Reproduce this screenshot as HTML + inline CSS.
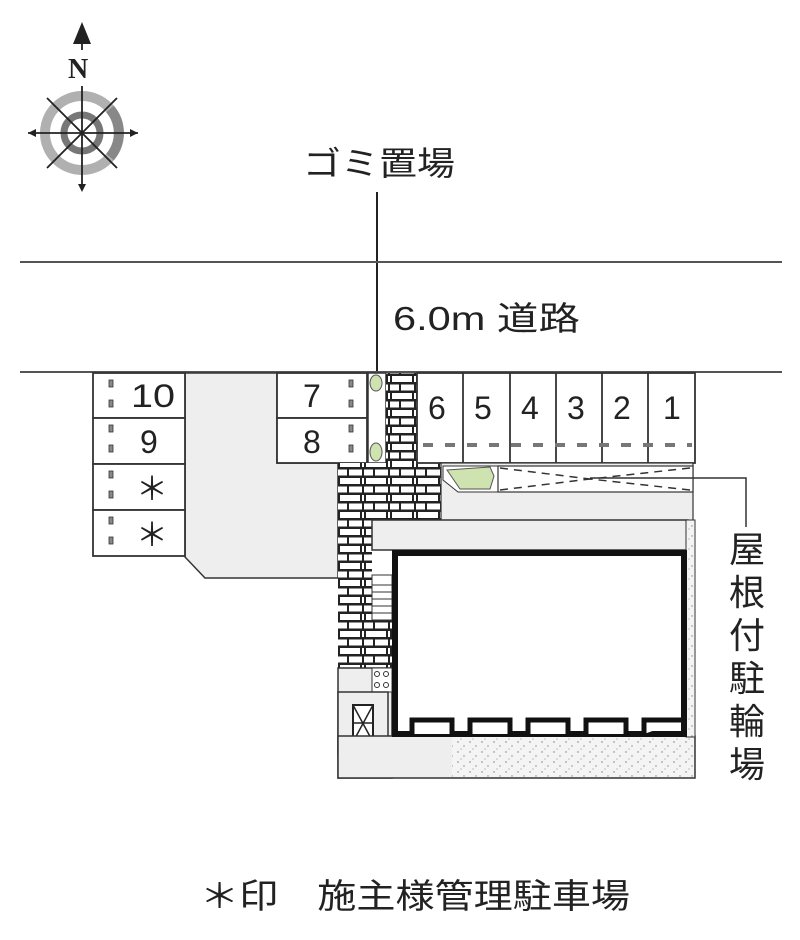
<!DOCTYPE html>
<html><head><meta charset="utf-8"><style>
html,body{margin:0;padding:0;background:#fff;}
svg{display:block;}
text{font-family:"Liberation Sans","Noto Sans CJK JP",sans-serif;fill:#222;}
</style></head><body>
<svg width="800" height="940" viewBox="0 0 800 940" xmlns="http://www.w3.org/2000/svg">
<defs>
<pattern id="brick" width="26" height="17" patternUnits="userSpaceOnUse">
<rect width="26" height="17" fill="#222"/>
<rect x="2" y="2" width="20" height="6" fill="#fff"/>
<rect x="24" y="2" width="2" height="6" fill="#fff"/>
<rect x="0" y="10.5" width="9" height="6" fill="#fff"/>
<rect x="11" y="10.5" width="13" height="6" fill="#fff"/>
</pattern>
<pattern id="dots" width="12" height="10" patternUnits="userSpaceOnUse">
<rect width="12" height="10" fill="#f4f4f4"/>
<circle cx="2" cy="2" r="0.7" fill="#777"/><circle cx="8" cy="6" r="0.7" fill="#888"/><circle cx="5" cy="9" r="0.6" fill="#999"/>
</pattern>
</defs>
<!-- compass -->
<g>
<circle cx="82" cy="133" r="37" fill="none" stroke="#b0b0b0" stroke-width="10"/>
<path d="M110,109 A37,37 0 0 1 110,157" fill="none" stroke="#888" stroke-width="10"/>
<circle cx="82" cy="133" r="18" fill="none" stroke="#777" stroke-width="7"/>
<g stroke="#222" stroke-width="1.8">
<line x1="82" y1="86" x2="82" y2="190"/>
<line x1="28" y1="133" x2="138" y2="133"/>
<line x1="47" y1="98" x2="117" y2="168"/>
<line x1="117" y1="98" x2="47" y2="168"/>
<line x1="82" y1="30" x2="82" y2="50"/>
</g>
<polygon points="82,22 73,44 91,44" fill="#222"/>
<polygon points="28,133 36,129 36,137" fill="#222"/>
<polygon points="138,133 130,129 130,137" fill="#222"/>
<polygon points="82,192 78,184 86,184" fill="#222"/>
<text x="68" y="78" font-family="Liberation Serif,serif" font-weight="bold" font-size="28" style="font-family:'Liberation Serif',serif">N</text>
</g>
<!-- labels -->
<text x="303" y="175" font-size="33" textLength="152" lengthAdjust="spacingAndGlyphs">ゴミ置場</text>
<text x="393" y="330" font-size="33" textLength="187" lengthAdjust="spacingAndGlyphs">6.0m 道路</text>
<line x1="377" y1="192" x2="377" y2="395" stroke="#222" stroke-width="2"/>
<!-- road -->
<line x1="20" y1="262" x2="782" y2="262" stroke="#555" stroke-width="2"/>
<line x1="20" y1="372" x2="782" y2="372" stroke="#555" stroke-width="2"/>
<!-- left gray area -->
<polygon points="185,373 277,373 277,463 338,463 338,578 205,578 185,557" fill="#eee" stroke="#333" stroke-width="1.5"/>
<!-- left spaces -->
<g fill="#fff" stroke="#333" stroke-width="1.8">
<rect x="93" y="373" width="92" height="45"/>
<rect x="93" y="418" width="92" height="46"/>
<rect x="93" y="464" width="92" height="46"/>
<rect x="93" y="510" width="92" height="46"/>
<rect x="277" y="373" width="90" height="45"/>
<rect x="277" y="418" width="90" height="45"/>
</g>
<g fill="#888" stroke="#333" stroke-width="0.8">
<rect x="109" y="380" width="4" height="7"/><rect x="109" y="400" width="4" height="7"/>
<rect x="109" y="425" width="4" height="7"/><rect x="109" y="445" width="4" height="7"/>
<rect x="109" y="471" width="4" height="7"/><rect x="109" y="491" width="4" height="7"/>
<rect x="109" y="517" width="4" height="7"/><rect x="109" y="537" width="4" height="7"/>
<rect x="349" y="380" width="4" height="7"/><rect x="349" y="400" width="4" height="7"/>
<rect x="349" y="425" width="4" height="7"/><rect x="349" y="445" width="4" height="7"/>
</g>
<g font-size="32">
<text x="131" y="407" textLength="44" lengthAdjust="spacingAndGlyphs">10</text><text x="140" y="453">9</text>
<text x="136" y="500">＊</text><text x="136" y="546">＊</text>
<text x="303" y="407">7</text><text x="303" y="453">8</text>
</g>
<!-- green strip -->
<rect x="368" y="373" width="18" height="90" fill="#fff" stroke="#333" stroke-width="1.5"/>
<ellipse cx="376" cy="383" rx="6" ry="8" fill="#cfe3b0" stroke="#555"/>
<ellipse cx="376" cy="452" rx="6" ry="9" fill="#cfe3b0" stroke="#555"/>
<!-- bricks -->
<rect x="386" y="373" width="31" height="90" fill="url(#brick)"/>
<rect x="338" y="463" width="103" height="57" fill="url(#brick)"/>
<rect x="338" y="520" width="34" height="100" fill="url(#brick)"/>
<rect x="338" y="620" width="54" height="48" fill="url(#brick)"/>
<rect x="372" y="575" width="20" height="45" fill="#fff" stroke="#333"/>
<g stroke="#333"><line x1="372" y1="585" x2="392" y2="585"/><line x1="372" y1="592" x2="392" y2="592"/><line x1="372" y1="599" x2="392" y2="599"/><line x1="372" y1="606" x2="392" y2="606"/><line x1="372" y1="613" x2="392" y2="613"/></g>
<!-- spaces 1-6 -->
<rect x="417" y="373" width="278" height="90" fill="#fff" stroke="#333" stroke-width="1.8"/>
<g stroke="#333" stroke-width="1.8">
<line x1="463" y1="373" x2="463" y2="463"/><line x1="510" y1="373" x2="510" y2="463"/>
<line x1="556" y1="373" x2="556" y2="463"/><line x1="602" y1="373" x2="602" y2="463"/>
<line x1="648" y1="373" x2="648" y2="463"/>
</g>
<line x1="423" y1="445" x2="692" y2="445" stroke="#777" stroke-width="4" stroke-dasharray="10,12"/>
<g font-size="32">
<text x="428" y="419">6</text><text x="474" y="419">5</text><text x="521" y="419">4</text>
<text x="567" y="419">3</text><text x="613" y="419">2</text><text x="663" y="419">1</text>
</g>
<!-- gray zone below spaces -->
<rect x="441" y="463" width="252" height="60" fill="#eee" stroke="#333" stroke-width="1.2"/>
<polygon points="443,466 498,466 498,492 458,492 443,480" fill="#fff" stroke="#333"/>
<path d="M447,470 L490,467 L494,476 L490,489 L460,489 Z" fill="#cfe3b0" stroke="#555"/>
<rect x="498" y="466" width="195" height="26" fill="#fff" stroke="#333" stroke-width="1.2"/>
<g stroke="#333" stroke-width="1.5" stroke-dasharray="8,6">
<line x1="500" y1="468" x2="590" y2="479"/><line x1="500" y1="490" x2="590" y2="479"/>
<line x1="690" y1="468" x2="590" y2="479"/><line x1="690" y1="490" x2="590" y2="479"/>
</g>
<polyline points="590,478 746,478 746,527" fill="none" stroke="#333" stroke-width="1.5"/>
<g font-size="36">
<text x="729" y="562">屋</text><text x="729" y="605">根</text><text x="729" y="648">付</text>
<text x="729" y="691">駐</text><text x="729" y="734">輪</text><text x="729" y="777">場</text>
</g>
<!-- building surround -->
<rect x="372" y="520" width="316" height="30" fill="#eee" stroke="#333" stroke-width="1.5"/>
<rect x="338" y="668" width="54" height="110" fill="#eee" stroke="#333" stroke-width="1.5"/>
<rect x="372" y="668" width="20" height="24" fill="#fff" stroke="#333"/>
<g fill="none" stroke="#333"><circle cx="377" cy="674" r="2.5"/><circle cx="386" cy="674" r="2.5"/><circle cx="377" cy="685" r="2.5"/><circle cx="386" cy="685" r="2.5"/></g>
<rect x="338" y="692" width="50" height="63" fill="#eee" stroke="#333" stroke-width="1.5"/>
<rect x="353" y="705" width="20" height="37" fill="#fff" stroke="#222" stroke-width="2"/>
<g stroke="#222" stroke-width="1.5"><line x1="353" y1="723" x2="373" y2="723"/><line x1="353" y1="705" x2="373" y2="742"/><line x1="373" y1="705" x2="353" y2="742"/></g>
<rect x="338" y="736" width="357" height="42" fill="#eee" stroke="#333" stroke-width="1.5"/>
<rect x="452" y="737" width="242" height="40" fill="url(#dots)"/>
<rect x="686" y="520" width="9" height="217" fill="url(#dots)" stroke="#333"/>
<!-- building -->
<rect x="395" y="553" width="289" height="181" fill="#fff" stroke="#111" stroke-width="6"/>
<g fill="#fff" stroke="#111" stroke-width="5">
<polyline points="412,734 412,720 452,720 452,734"/>
<polyline points="470,734 470,720 510,720 510,734"/>
<polyline points="528,734 528,720 568,720 568,734"/>
<polyline points="586,734 586,720 626,720 626,734"/>
<polyline points="644,734 644,720 684,720"/>
</g>
<text x="200" y="908" font-size="34" textLength="430" lengthAdjust="spacingAndGlyphs">＊印　施主様管理駐車場</text>
</svg>
</body></html>
